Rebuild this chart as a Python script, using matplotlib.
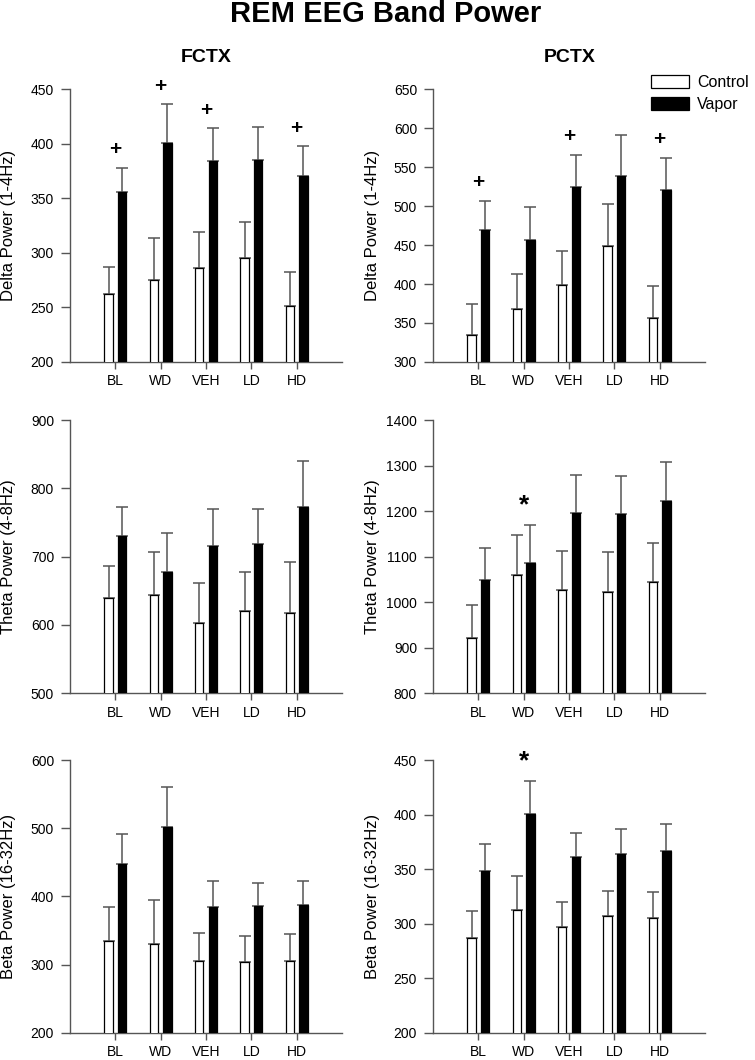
import numpy as np
import matplotlib
matplotlib.use('Agg')
import matplotlib.pyplot as plt
from matplotlib.patches import Patch

plt.rcParams['font.family'] = ['Liberation Sans', 'DejaVu Sans']

groups = ['BL', 'WD', 'VEH', 'LD', 'HD']

# Delta (1-4Hz)
delta_fctx_ctrl = [262, 275, 286, 295, 251]
delta_fctx_ctrl_err = [287, 314, 319, 328, 282]
delta_fctx_vap = [356, 401, 384, 385, 370]
delta_fctx_vap_err = [378, 436, 414, 415, 398]

delta_pctx_ctrl = [335, 368, 399, 449, 356]
delta_pctx_ctrl_err = [374, 413, 442, 503, 398]
delta_pctx_vap = [469, 456, 525, 539, 521]
delta_pctx_vap_err = [507, 499, 566, 591, 562]

# Theta (4-8Hz)
theta_fctx_ctrl = [639, 643, 602, 620, 618]
theta_fctx_ctrl_err = [686, 707, 661, 677, 692]
theta_fctx_vap = [730, 677, 716, 718, 772]
theta_fctx_vap_err = [772, 735, 769, 769, 840]

theta_pctx_ctrl = [922, 1060, 1027, 1023, 1043]
theta_pctx_ctrl_err = [994, 1148, 1113, 1110, 1129]
theta_pctx_vap = [1048, 1086, 1196, 1193, 1223]
theta_pctx_vap_err = [1119, 1170, 1279, 1278, 1307]

# Beta (16-32Hz)
beta_fctx_ctrl = [335, 331, 305, 304, 305]
beta_fctx_ctrl_err = [384, 395, 347, 342, 345]
beta_fctx_vap = [448, 502, 385, 386, 388]
beta_fctx_vap_err = [492, 560, 423, 420, 423]

beta_pctx_ctrl = [287, 313, 297, 307, 305]
beta_pctx_ctrl_err = [312, 344, 320, 330, 329]
beta_pctx_vap = [348, 401, 361, 364, 367]
beta_pctx_vap_err = [373, 431, 383, 387, 391]

panels = [
    ('Delta Power (1-4Hz)', (200, 450), 50, delta_fctx_ctrl, delta_fctx_ctrl_err,
     delta_fctx_vap, delta_fctx_vap_err, '+', ['BL', 'WD', 'VEH', 'HD']),
    ('Delta Power (1-4Hz)', (300, 650), 50, delta_pctx_ctrl, delta_pctx_ctrl_err,
     delta_pctx_vap, delta_pctx_vap_err, '+', ['BL', 'VEH', 'HD']),
    ('Theta Power (4-8Hz)', (500, 900), 100, theta_fctx_ctrl, theta_fctx_ctrl_err,
     theta_fctx_vap, theta_fctx_vap_err, '*', []),
    ('Theta Power (4-8Hz)', (800, 1400), 100, theta_pctx_ctrl, theta_pctx_ctrl_err,
     theta_pctx_vap, theta_pctx_vap_err, '*', ['WD']),
    ('Beta Power (16-32Hz)', (200, 600), 100, beta_fctx_ctrl, beta_fctx_ctrl_err,
     beta_fctx_vap, beta_fctx_vap_err, '*', []),
    ('Beta Power (16-32Hz)', (200, 450), 50, beta_pctx_ctrl, beta_pctx_ctrl_err,
     beta_pctx_vap, beta_pctx_vap_err, '*', ['WD']),
]

gray = '#555555'
fig = plt.figure(figsize=(7.55, 10.6), dpi=100)

lefts = [0.0927, 0.5735]
bottoms = [0.6585, 0.3462, 0.0255]
w, h = 0.3603, 0.2575

x = np.arange(1, len(groups) + 1)
bw = 0.18
off = 0.15

for i, (ylab, ylim, step, c, ce, v, ve, mark, marked) in enumerate(panels):
    ax = fig.add_axes([lefts[i % 2], bottoms[i // 2], w, h])
    c = np.array(c); ce = np.array(ce); v = np.array(v); ve = np.array(ve)
    ax.bar(x - off, c, bw, color='white', edgecolor='black', linewidth=0.9, zorder=3)
    ax.bar(x + off, v, bw, color='black', edgecolor='black', linewidth=0.9, zorder=3)
    ax.errorbar(x - off, c, yerr=[np.zeros_like(c), ce - c], fmt='none',
                ecolor=gray, elinewidth=1.1, capsize=4.5, capthick=1.1, zorder=2)
    ax.errorbar(x + off, v, yerr=[np.zeros_like(v), ve - v], fmt='none',
                ecolor=gray, elinewidth=1.1, capsize=4.5, capthick=1.1, zorder=2)
    ax.set_xlim(0, 6)
    ax.set_ylim(*ylim)
    ax.set_yticks(np.arange(ylim[0], ylim[1] + 1, step))
    ax.set_xticks(x)
    ax.set_xticklabels(groups)
    ax.tick_params(axis='x', direction='out', length=5, width=1, color=gray,
                   labelsize=10, pad=4)
    ax.tick_params(axis='y', direction='out', length=6.5, width=1, color=gray,
                   labelsize=10, pad=5)
    for s in ['top', 'right']:
        ax.spines[s].set_visible(False)
    for s in ['left', 'bottom']:
        ax.spines[s].set_color(gray)
        ax.spines[s].set_linewidth(1)
    ax.set_ylabel(ylab, fontsize=12)
    ax.yaxis.set_label_coords(-0.20 if i % 2 == 0 else -0.195, 0.5)
    rng = ylim[1] - ylim[0]
    for g in marked:
        k = groups.index(g)
        if mark == '+':
            ax.text(x[k], ve[k] + 0.065 * rng, '+', ha='center', va='center',
                    fontsize=15, fontweight='bold', clip_on=False)
        else:
            ax.text(x[k], ve[k] + 0.07 * rng, '*', ha='center', va='center',
                    fontsize=19, fontweight='bold', clip_on=False)

fig.text(0.511, 1 - 14 / 1060, 'REM EEG Band Power', ha='center', va='center',
         fontsize=21, fontweight='bold')
fig.text(0.273, 1 - 57 / 1060, 'FCTX', ha='center', va='center',
         fontsize=14, fontweight='bold')
fig.text(0.754, 1 - 57 / 1060, 'PCTX', ha='center', va='center',
         fontsize=14, fontweight='bold')

handles = [Patch(facecolor='white', edgecolor='black', linewidth=0.9, label='Control'),
           Patch(facecolor='black', edgecolor='black', linewidth=0.9, label='Vapor')]
fig.legend(handles=handles, loc='upper left', bbox_to_anchor=(651 / 755, 1 - 75 / 1060),
           frameon=False, fontsize=11.5, handlelength=2.4, handleheight=0.85,
           handletextpad=0.5, labelspacing=0.45, borderpad=0, borderaxespad=0)

fig.savefig('out.png', dpi=100)
